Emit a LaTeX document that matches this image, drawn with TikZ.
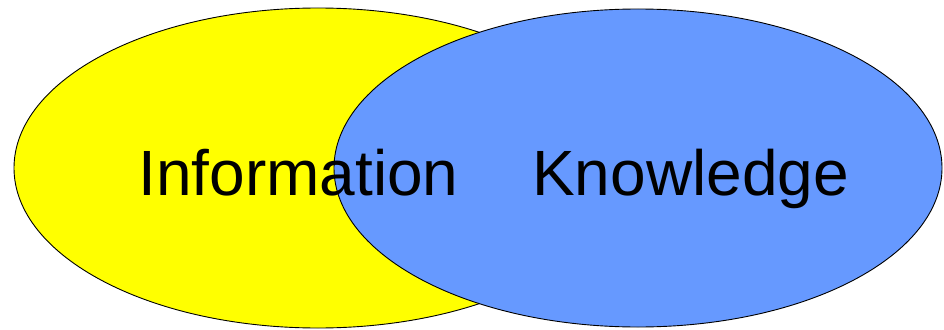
\documentclass[tikz,border=0pt]{standalone}
\usepackage{fontspec}
\setmainfont{Liberation Sans}
\definecolor{vyellow}{HTML}{FFFF00}
\definecolor{vblue}{HTML}{6699FF}
\begin{document}
\begin{tikzpicture}[x=1pt,y=-1pt,
  setellipse/.style={draw=black,line width=0.9pt},
  setlabel/.style={inner sep=0pt,anchor=base,font=\fontsize{64}{68}\selectfont}]
\useasboundingbox (0,0) rectangle (944,329);
\fill[white] (0,0) rectangle (944,329);
\draw[setellipse,fill=vyellow] (318,168) ellipse [x radius=304, y radius=160];
\draw[setellipse,fill=vblue] (638,168) ellipse [x radius=304, y radius=159];
\node[setlabel] (info) at (298.5,195) {Information};
\node[setlabel] (know) at (690.5,195) {Knowledge};
\end{tikzpicture}
\end{document}
